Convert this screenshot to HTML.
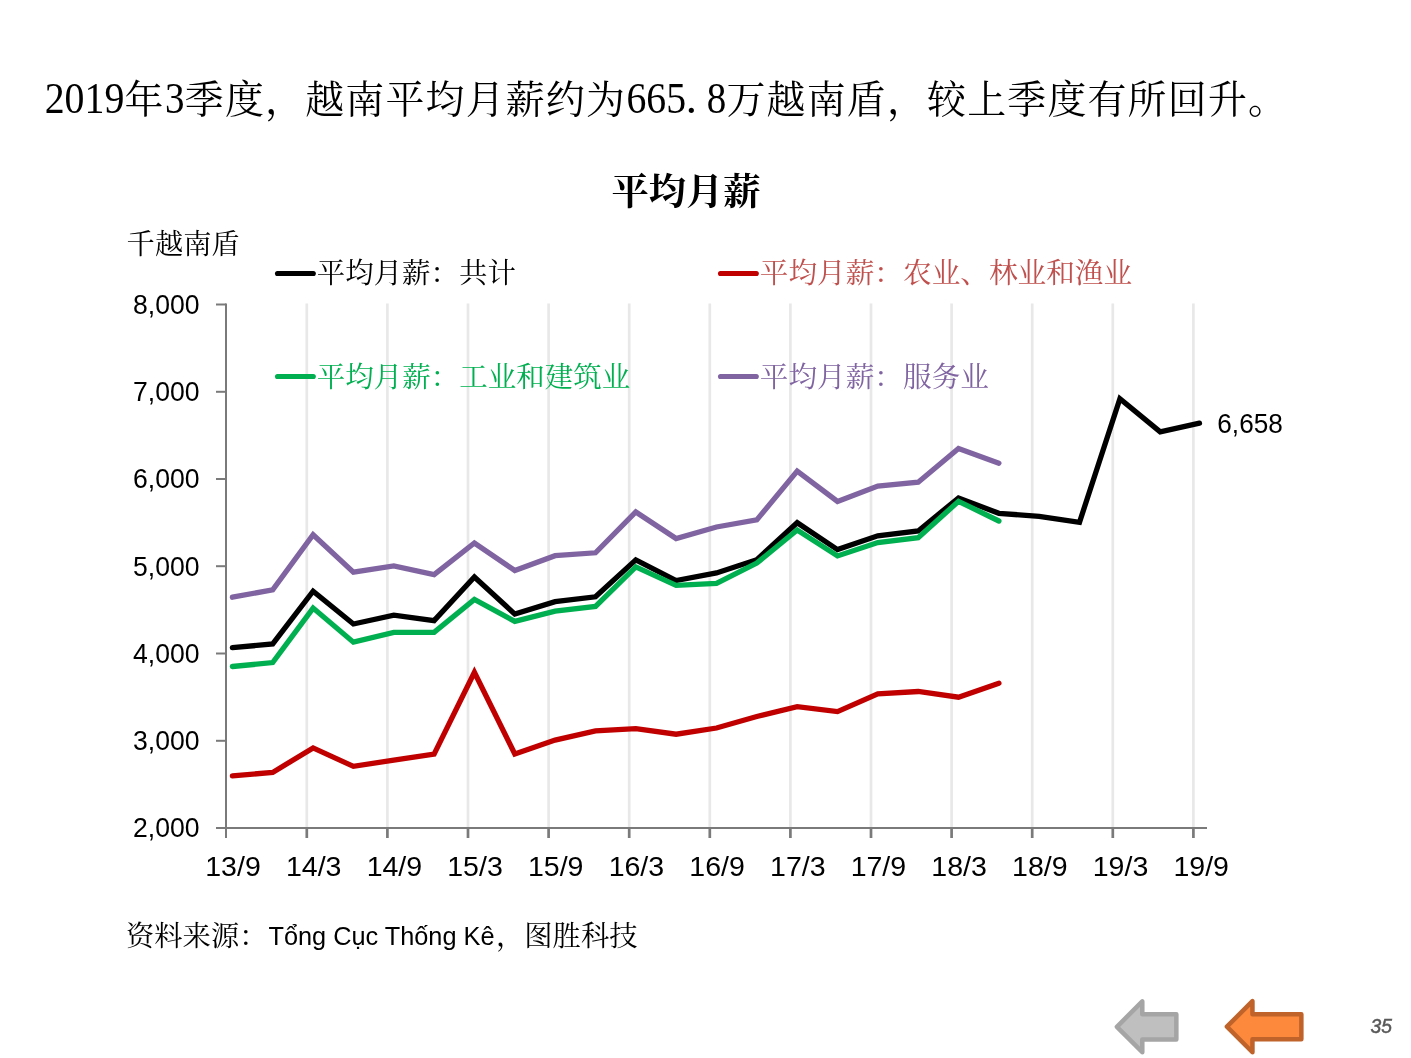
<!DOCTYPE html>
<html lang="zh-CN">
<head>
<meta charset="utf-8">
<title>平均月薪</title>
<style>
html,body{margin:0;padding:0;background:#fff;}
body{width:1411px;height:1058px;overflow:hidden;position:relative;}
svg{position:absolute;left:0;top:0;display:block;}
.song{font-family:"Liberation Serif","Noto Serif CJK SC",serif;}
.num{font-family:"Liberation Serif","Noto Serif CJK SC",serif;}
.sans{font-family:"Liberation Sans",sans-serif;}
</style>
</head>
<body>
<svg width="1411" height="1058" viewBox="0 0 1411 1058">
<rect width="1411" height="1058" fill="#ffffff"/>

<g stroke="#e8e8e8" stroke-width="2.7">
<line x1="306.8" y1="303.5" x2="306.8" y2="828.0"/>
<line x1="387.4" y1="303.5" x2="387.4" y2="828.0"/>
<line x1="468.0" y1="303.5" x2="468.0" y2="828.0"/>
<line x1="548.6" y1="303.5" x2="548.6" y2="828.0"/>
<line x1="629.2" y1="303.5" x2="629.2" y2="828.0"/>
<line x1="709.8" y1="303.5" x2="709.8" y2="828.0"/>
<line x1="790.4" y1="303.5" x2="790.4" y2="828.0"/>
<line x1="871.0" y1="303.5" x2="871.0" y2="828.0"/>
<line x1="951.6" y1="303.5" x2="951.6" y2="828.0"/>
<line x1="1032.2" y1="303.5" x2="1032.2" y2="828.0"/>
<line x1="1112.8" y1="303.5" x2="1112.8" y2="828.0"/>
<line x1="1193.4" y1="303.5" x2="1193.4" y2="828.0"/>
</g>
<g stroke="#7a7a7a" stroke-width="2" fill="none">
<line x1="226.0" y1="303.5" x2="226.0" y2="838.0"/>
<line x1="216.0" y1="828.0" x2="1207" y2="828.0"/>
<line x1="216.0" y1="304.5" x2="226.0" y2="304.5"/>
<line x1="216.0" y1="391.8" x2="226.0" y2="391.8"/>
<line x1="216.0" y1="479.0" x2="226.0" y2="479.0"/>
<line x1="216.0" y1="566.2" x2="226.0" y2="566.2"/>
<line x1="216.0" y1="653.5" x2="226.0" y2="653.5"/>
<line x1="216.0" y1="740.8" x2="226.0" y2="740.8"/>
<line x1="306.8" y1="828.0" x2="306.8" y2="838.0" stroke-width="2.7"/>
<line x1="387.4" y1="828.0" x2="387.4" y2="838.0" stroke-width="2.7"/>
<line x1="468.0" y1="828.0" x2="468.0" y2="838.0" stroke-width="2.7"/>
<line x1="548.6" y1="828.0" x2="548.6" y2="838.0" stroke-width="2.7"/>
<line x1="629.2" y1="828.0" x2="629.2" y2="838.0" stroke-width="2.7"/>
<line x1="709.8" y1="828.0" x2="709.8" y2="838.0" stroke-width="2.7"/>
<line x1="790.4" y1="828.0" x2="790.4" y2="838.0" stroke-width="2.7"/>
<line x1="871.0" y1="828.0" x2="871.0" y2="838.0" stroke-width="2.7"/>
<line x1="951.6" y1="828.0" x2="951.6" y2="838.0" stroke-width="2.7"/>
<line x1="1032.2" y1="828.0" x2="1032.2" y2="838.0" stroke-width="2.7"/>
<line x1="1112.8" y1="828.0" x2="1112.8" y2="838.0" stroke-width="2.7"/>
<line x1="1193.4" y1="828.0" x2="1193.4" y2="838.0" stroke-width="2.7"/>
</g>
<polyline points="232.4,647.7 272.7,643.9 313.1,591.2 353.4,624.0 393.8,615.2 434.1,620.6 474.4,577.0 514.8,614.1 555.1,601.6 595.5,596.8 635.8,559.9 676.1,580.6 716.5,572.9 756.8,559.7 797.2,522.7 837.5,549.6 877.8,535.8 918.2,531.0 958.5,497.9 998.9,513.3 1039.2,516.4 1079.5,522.3 1119.9,398.7 1160.2,431.8 1199.5,423.2" fill="none" stroke="#000000" stroke-width="5.3" stroke-linejoin="miter" stroke-linecap="round"/>
<polyline points="232.4,775.9 272.7,772.4 313.1,747.9 353.4,766.3 393.8,760.2 434.1,754.2 474.4,672.3 514.8,753.9 555.1,740.1 595.5,730.9 635.8,728.6 676.1,734.2 716.5,728.0 756.8,716.5 797.2,706.6 837.5,711.6 877.8,693.8 918.2,691.5 958.5,697.2 998.9,683.2" fill="none" stroke="#c00000" stroke-width="5.3" stroke-linejoin="miter" stroke-linecap="round"/>
<polyline points="232.4,666.5 272.7,662.6 313.1,608.1 353.4,642.2 393.8,632.4 434.1,632.4 474.4,599.4 514.8,621.4 555.1,611.2 595.5,606.4 635.8,566.9 676.1,585.3 716.5,583.4 756.8,563.1 797.2,530.0 837.5,555.9 877.8,542.5 918.2,537.7 958.5,501.3 998.9,521.0" fill="none" stroke="#00b050" stroke-width="5.3" stroke-linejoin="miter" stroke-linecap="round"/>
<polyline points="232.4,597.2 272.7,589.9 313.1,534.8 353.4,572.2 393.8,566.0 434.1,574.7 474.4,543.0 514.8,570.5 555.1,555.7 595.5,552.8 635.8,512.0 676.1,538.5 716.5,527.0 756.8,519.9 797.2,471.1 837.5,501.4 877.8,486.0 918.2,482.2 958.5,448.5 998.9,463.2" fill="none" stroke="#8064a2" stroke-width="5.3" stroke-linejoin="miter" stroke-linecap="round"/>
<g class="sans" font-size="28.3" fill="#000" text-anchor="end">
<text x="199.5" y="313.7" textLength="66.5" lengthAdjust="spacingAndGlyphs">8,000</text>
<text x="199.5" y="400.9" textLength="66.5" lengthAdjust="spacingAndGlyphs">7,000</text>
<text x="199.5" y="488.2" textLength="66.5" lengthAdjust="spacingAndGlyphs">6,000</text>
<text x="199.5" y="575.5" textLength="66.5" lengthAdjust="spacingAndGlyphs">5,000</text>
<text x="199.5" y="662.7" textLength="66.5" lengthAdjust="spacingAndGlyphs">4,000</text>
<text x="199.5" y="750.0" textLength="66.5" lengthAdjust="spacingAndGlyphs">3,000</text>
<text x="199.5" y="837.2" textLength="66.5" lengthAdjust="spacingAndGlyphs">2,000</text>
</g>
<g class="sans" font-size="28.3" fill="#000" text-anchor="middle">
<text x="233.0" y="875.7" textLength="55.5" lengthAdjust="spacingAndGlyphs">13/9</text>
<text x="313.7" y="875.7" textLength="55.5" lengthAdjust="spacingAndGlyphs">14/3</text>
<text x="394.4" y="875.7" textLength="55.5" lengthAdjust="spacingAndGlyphs">14/9</text>
<text x="475.0" y="875.7" textLength="55.5" lengthAdjust="spacingAndGlyphs">15/3</text>
<text x="555.7" y="875.7" textLength="55.5" lengthAdjust="spacingAndGlyphs">15/9</text>
<text x="636.4" y="875.7" textLength="55.5" lengthAdjust="spacingAndGlyphs">16/3</text>
<text x="717.1" y="875.7" textLength="55.5" lengthAdjust="spacingAndGlyphs">16/9</text>
<text x="797.8" y="875.7" textLength="55.5" lengthAdjust="spacingAndGlyphs">17/3</text>
<text x="878.4" y="875.7" textLength="55.5" lengthAdjust="spacingAndGlyphs">17/9</text>
<text x="959.1" y="875.7" textLength="55.5" lengthAdjust="spacingAndGlyphs">18/3</text>
<text x="1039.8" y="875.7" textLength="55.5" lengthAdjust="spacingAndGlyphs">18/9</text>
<text x="1120.5" y="875.7" textLength="55.5" lengthAdjust="spacingAndGlyphs">19/3</text>
<text x="1201.2" y="875.7" textLength="55.5" lengthAdjust="spacingAndGlyphs">19/9</text>
</g>
<text class="sans" font-size="28.3" x="1217.3" y="432.7" textLength="65.5" lengthAdjust="spacingAndGlyphs">6,658</text>
<line x1="277.5" y1="273.5" x2="313.3" y2="273.5" stroke="#000000" stroke-width="5.1" stroke-linecap="round"/>
<text class="song" font-size="28.45" x="316.8" y="282.9" fill="#000000">平均月薪：共计</text>
<line x1="720.5" y1="273.5" x2="756.3" y2="273.5" stroke="#c00000" stroke-width="5.1" stroke-linecap="round"/>
<text class="song" font-size="28.65" x="759.8" y="282.9" fill="#c0504d">平均月薪：农业、林业和渔业</text>
<line x1="277.5" y1="376.5" x2="313.3" y2="376.5" stroke="#00b050" stroke-width="5.1" stroke-linecap="round"/>
<text class="song" font-size="28.5" x="316.8" y="387.0" fill="#00b050">平均月薪：工业和建筑业</text>
<line x1="720.5" y1="376.5" x2="756.3" y2="376.5" stroke="#8064a2" stroke-width="5.1" stroke-linecap="round"/>
<text class="song" font-size="28.65" x="759.8" y="387.0" fill="#8064a2">平均月薪：服务业</text>
<text class="num" font-size="44.5" y="112.6" x="44.7" textLength="79.6" lengthAdjust="spacingAndGlyphs" fill="#000">2019</text>
<text class="song" font-size="38.9" y="112.7" x="124.6" fill="#000">年</text>
<text class="num" font-size="44.5" y="112.6" x="165.1" textLength="19.5" lengthAdjust="spacingAndGlyphs" fill="#000">3</text>
<text class="song" font-size="38.9" y="112.7" x="184.8 224.9 265.1 305.2 345.3 385.4 425.5 465.7 505.8 545.9 586.0" fill="#000">季度，越南平均月薪约为</text>
<text class="num" font-size="44.5" y="112.6" x="626.4" textLength="59.6" lengthAdjust="spacingAndGlyphs" fill="#000">665</text>
<text class="num" font-size="44.5" y="112.6" x="685.8" fill="#000">.</text>
<text class="num" font-size="44.5" y="112.6" x="706.7" textLength="19.5" lengthAdjust="spacingAndGlyphs" fill="#000">8</text>
<text class="song" font-size="38.9" y="112.7" x="726.4 766.6 806.7 846.8 886.9 927.0 967.2 1007.3 1047.4 1087.5 1127.6 1167.8 1207.9 1248.0" fill="#000">万越南盾，较上季度有所回升。</text>
<text class="song" font-size="37.3" font-weight="700" x="686" y="205" text-anchor="middle" fill="#000">平均月薪</text>
<text class="song" font-size="28.3" x="126.6" y="254" fill="#000">千越南盾</text>
<text class="song" font-size="28.3" x="126" y="946.3" fill="#000">资料来源：</text>
<text class="sans" font-size="26" x="268.5" y="944.9" textLength="226" lengthAdjust="spacingAndGlyphs" fill="#000">Tổng Cục Thống Kê</text>
<text class="song" font-size="28.3" x="496" y="946.3" fill="#000">，图胜科技</text>
<path d="M1116.90 1026.80 L1142.30 1001.40 L1142.30 1014.25 L1176.35 1014.25 L1176.35 1039.45 L1142.30 1039.45 L1142.30 1052.20 Z" fill="#bfbfbf" stroke="#a5a5a5" stroke-width="4.5" stroke-linejoin="round"/>
<path d="M1226.90 1026.70 L1252.45 1001.15 L1252.45 1014.15 L1301.35 1014.15 L1301.35 1039.35 L1252.45 1039.35 L1252.45 1052.25 Z" fill="#fd8a3c" stroke="#c0632b" stroke-width="4.5" stroke-linejoin="round"/>
<text class="sans" font-size="21" font-weight="400" font-style="italic" x="1370.6" y="1032.6" fill="#595959" stroke="#595959" stroke-width="0.55" textLength="21.4" lengthAdjust="spacingAndGlyphs">35</text>
</svg>
</body>
</html>
